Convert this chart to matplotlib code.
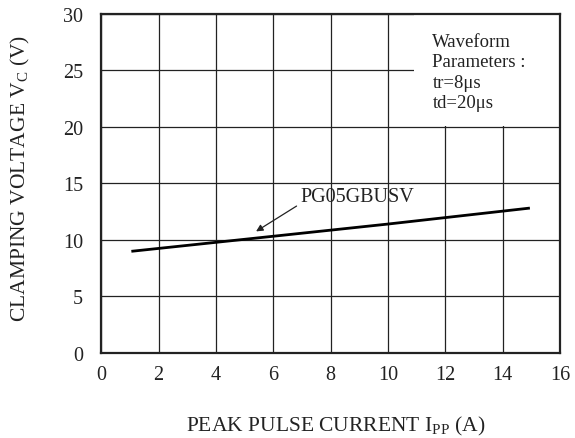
import matplotlib
matplotlib.use("Agg")
import matplotlib.pyplot as plt
from matplotlib.patches import Rectangle

plt.rcParams['font.family'] = ['Liberation Serif', 'DejaVu Serif']
plt.rcParams['mathtext.fontset'] = 'custom'
plt.rcParams['mathtext.rm'] = 'Liberation Serif'

# clamping voltage vs peak pulse current
current = [1.1, 5.0, 10.0, 14.9]
voltage = [9.0, 10.05, 11.4, 12.8]
device = 'PG05GBUSV'
x_ticks = [0, 2, 4, 6, 8, 10, 12, 14, 16]
y_ticks = [0, 5, 10, 15, 20, 25, 30]

fig = plt.figure(figsize=(5.75, 4.39), dpi=100)
ax = fig.add_axes([0.176, 0.194, 0.798, 0.772])

ax.plot(current, voltage, color='black', lw=2, zorder=3)

ax.set_xlim(0, 16)
ax.set_ylim(0, 30)
ax.set_xticks(x_ticks)
ax.set_yticks(y_ticks)
ax.tick_params(axis='x', length=0, pad=9, labelsize=14.5, colors='#222222')
ax.tick_params(axis='y', length=0, pad=13, labelsize=14.5, colors='#222222')
ax.grid(True, color='#222222', lw=0.9)
ax.set_axisbelow(True)
for s in ax.spines.values():
    s.set_linewidth(1.6)
    s.set_color('#222222')

# parameter box hides the grid behind it
ax.add_patch(Rectangle((10.9, 20.1), 5.1, 9.9, facecolor='white',
                       edgecolor='none', zorder=2))
ax.text(11.55, 28.35, 'Waveform\nParameters :\ntr=8μs\ntd=20μs',
        fontsize=13.5, va='top', ha='left', linespacing=1.27,
        color='#222222', zorder=4)

ax.annotate(device, xy=(5.4, 10.75), xytext=(6.95, 13.8),
            fontsize=14.5, color='#222222', va='center', ha='left',
            arrowprops=dict(arrowstyle='-|>', color='#222222', lw=0.9,
                            shrinkA=1, shrinkB=0, mutation_scale=10,
                            relpos=(0, 0.15)),
            zorder=4)

fig.text(0.584, 0.016, r'PEAK PULSE CURRENT I$_{\mathregular{PP}}$ (A)',
         fontsize=15.5, color='#222222', ha='center', va='baseline')
fig.text(0.036, 0.594, r'CLAMPING VOLTAGE V$_{\mathregular{C}}$ (V)',
         fontsize=15.5, color='#222222', ha='center', va='center',
         rotation=90)

fig.savefig('out.png', dpi=100)
